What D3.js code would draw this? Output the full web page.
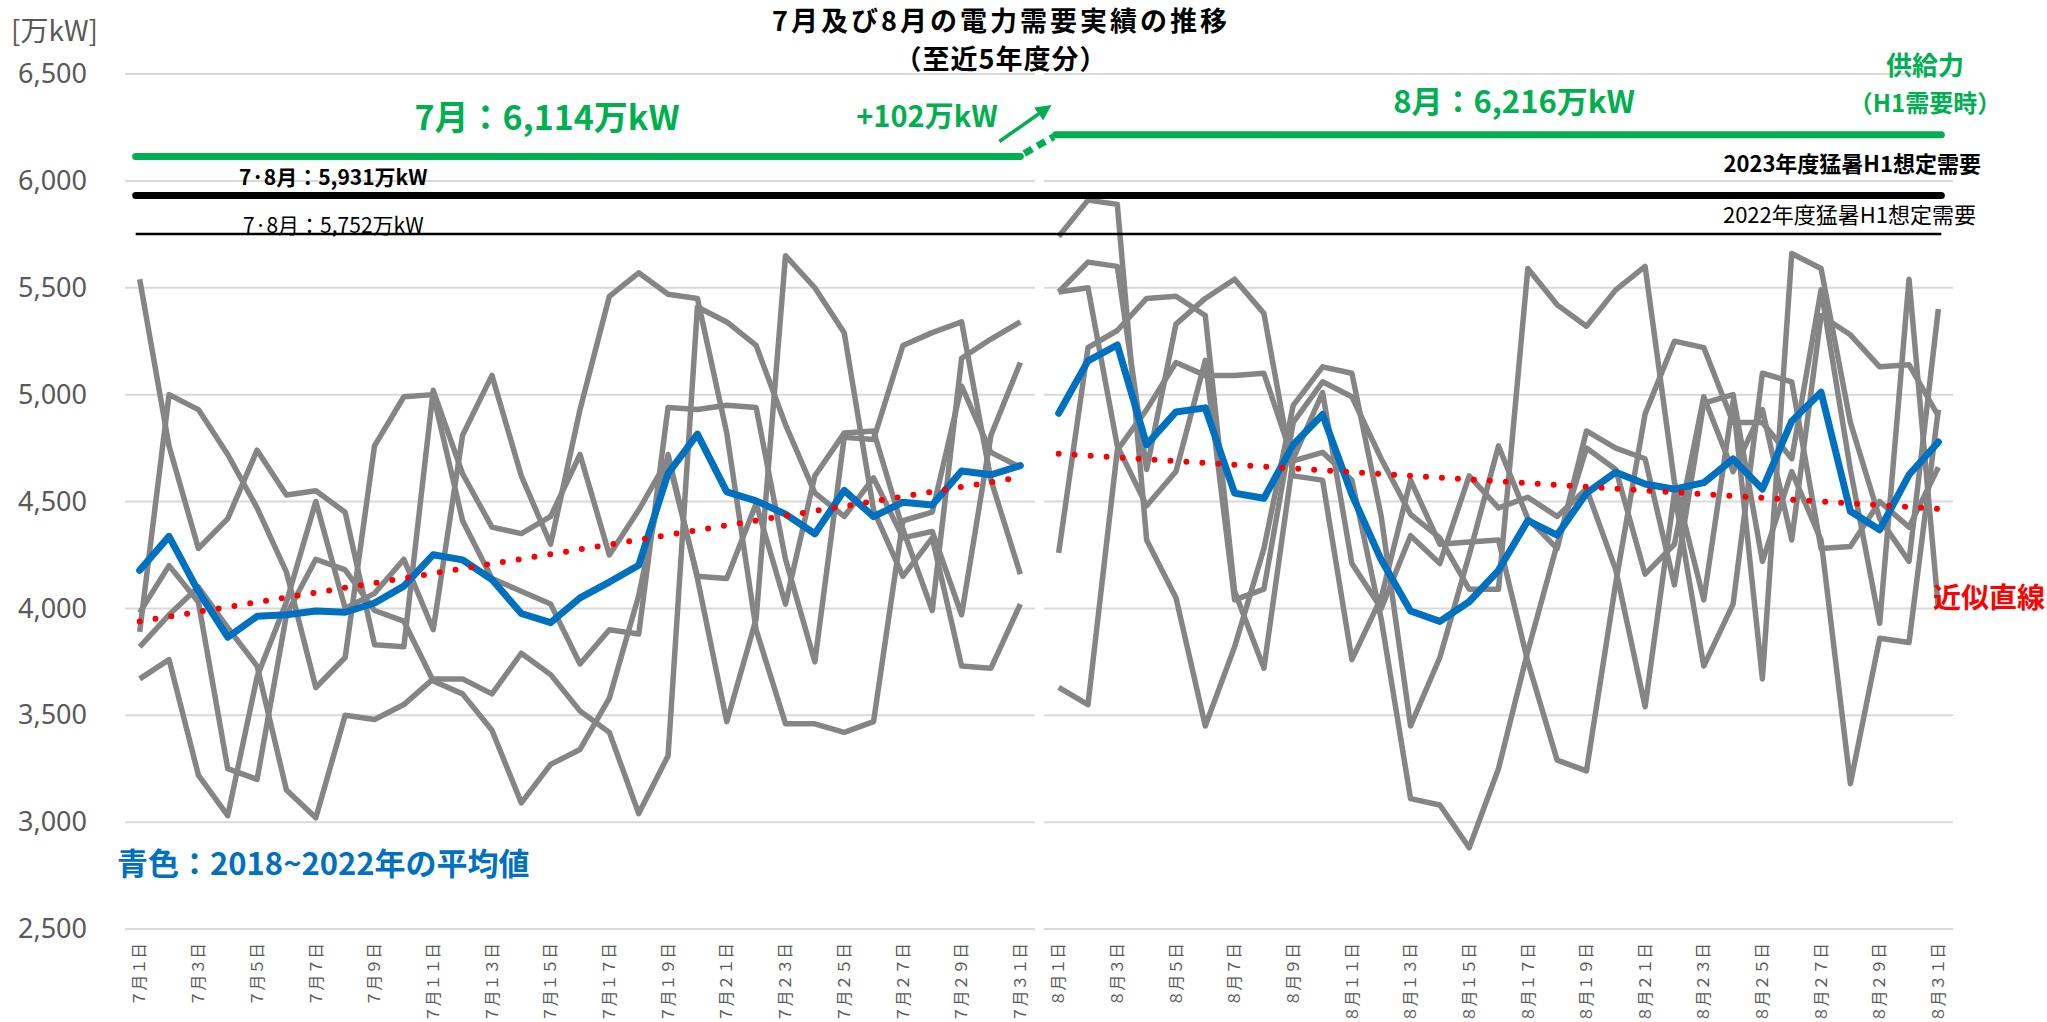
<!DOCTYPE html>
<html>
<head>
<meta charset="utf-8">
<script src="https://cdn.jsdelivr.net/npm/d3@7"></script>
<style>
  body { margin: 0; background: #fff; }
  svg text { font-family: "Noto Sans CJK JP", "Noto Sans", sans-serif; }
</style>
</head>
<body>
<svg id="chart" width="2047" height="1022"></svg>
<script>
// ---- data ----
var julDays = d3.range(1, 32).map(function(d){ return "7月" + d + "日"; });
var augDays = d3.range(1, 32).map(function(d){ return "8月" + d + "日"; });

// 2018-2022 daily peak demand (万kW), gray lines
var jul1 = [5540,4760,4280,4420,4740,4530,4550,4450,3830,3820,5020,4630,4380,4350,4430,4720,4250,4460,4700,4150,4140,4490,4020,4620,4820,4830,4370,3990,5170,5260,5340];
var jul2 = [3890,5000,4930,4720,4470,4170,3630,3770,4760,4990,5000,4410,4140,4080,4020,3740,3900,3880,4940,4930,4950,4940,4230,3750,4800,4790,5230,5290,5340,4600,4160];
var jul3 = [3980,4200,4030,3250,3200,3970,4230,4180,3990,3940,3660,3600,3430,3090,3270,3340,3580,4060,4720,4140,3470,3950,5650,5500,5290,4460,4150,4330,3730,3720,4020];
var jul4 = [3820,3970,4100,3910,3730,3150,3020,3500,3480,3550,3670,3670,3600,3790,3690,3520,3420,3040,3310,5410,5340,5230,4860,4540,4430,4610,4330,4360,3970,4810,5150];
var jul5 = [3670,3760,3220,3030,3680,4030,4500,4000,4070,4230,3900,4810,5090,4620,4300,4930,5460,5570,5470,5450,4820,3900,3460,3460,3420,3470,4410,4450,5040,4730,4660];

var aug1 = [5740,5910,5890,4320,4050,3450,3820,4280,4950,5130,5100,4430,3450,3770,4250,4760,4420,4280,4830,4750,4700,4110,4960,5000,4220,4640,4320,3180,3860,3840,4930];
var aug2 = [5480,5620,5600,4650,5330,5450,5540,5380,4620,4600,3760,4050,4600,4300,4310,4320,3750,3290,3240,4120,4910,5250,5220,4870,4870,4700,5490,4650,3930,5540,4000];
var aug3 = [5480,5500,4760,4480,4640,5160,4040,4090,4870,5060,4990,4700,4440,4330,4090,4090,5590,5420,5320,5490,5600,4590,4040,4970,3670,5660,5590,4870,4420,4220,5400];
var aug4 = [4260,5220,5300,5450,5460,5370,4080,3720,4700,5010,4210,4000,4340,4210,4620,4470,4520,4430,4560,4180,3540,4540,3730,4020,5100,5060,4280,4290,4500,4380,4660];
var aug5 = [3630,3550,4740,4930,5150,5090,5090,5100,4690,4730,4600,3950,3110,3080,2880,3250,3800,4300,4750,4650,4160,4300,4990,4640,4930,4320,5370,5280,5130,5140,4900];

// 5-year average (blue)
var julAvg = [4178,4337,4080,3865,3963,3970,3988,3982,4025,4104,4251,4227,4135,3976,3933,4049,4123,4202,4631,4815,4545,4503,4441,4349,4552,4429,4497,4484,4643,4625,4668];
var augAvg = [4913,5158,5232,4766,4919,4938,4539,4515,4766,4907,4533,4227,3988,3939,4031,4178,4411,4343,4539,4637,4582,4558,4588,4699,4558,4876,5011,4454,4368,4625,4778];

// trend line end values (first day, last day)
var julTrend = [3939, 4613];
var augTrend = [4723, 4466];

// supply and assumed demand levels
var supplyJul = 6114;
var supplyAug = 6216;
var demand2023 = 5931;
var demand2022 = 5752;

var yTicks = [2500,3000,3500,4000,4500,5000,5500,6000,6500];

// ---- setup ----
var svg = d3.select("#chart");
svg.append("rect").attr("width", 2047).attr("height", 1022).attr("fill", "#fff");

var y = d3.scaleLinear().domain([2500, 6500]).range([929, 74]);
var xJul = d3.scaleBand().domain(julDays).range([125, 1035]);
var xAug = d3.scaleBand().domain(augDays).range([1044, 1953]);

function cx(scale, label) { return scale(label) + scale.bandwidth() / 2; }

var panels = [
  {x: xJul, days: julDays, gray: [jul1, jul2, jul3, jul4, jul5], avg: julAvg, trend: julTrend},
  {x: xAug, days: augDays, gray: [aug1, aug2, aug3, aug4, aug5], avg: augAvg, trend: augTrend}
];

// gridlines
panels.forEach(function(p) {
  svg.append("g").selectAll("line")
    .data(yTicks)
    .enter().append("line")
    .attr("x1", p.x.range()[0])
    .attr("x2", p.x.range()[1])
    .attr("y1", function(d){ return y(d); })
    .attr("y2", function(d){ return y(d); })
    .attr("stroke", "#d9d9d9")
    .attr("stroke-width", 2);
});

// y axis
var yAxis = d3.axisLeft(y).tickValues(yTicks).tickFormat(d3.format(",")).tickSize(0).tickPadding(0);
var gy = svg.append("g").attr("transform", "translate(87,0)").call(yAxis);
gy.select(".domain").remove();
gy.selectAll("text")
  .attr("fill", "#595959")
  .style("font-family", "'Noto Sans', sans-serif")
  .style("font-size", "27px");

svg.append("text")
  .attr("x", 11).attr("y", 41)
  .attr("fill", "#595959")
  .style("font-size", "28px")
  .text("[万kW]");

// x axes (every other day labelled)
panels.forEach(function(p) {
  var xAxis = d3.axisBottom(p.x).tickSize(0)
    .tickFormat(function(d, i){ return i % 2 == 0 ? d : ""; });
  var gx = svg.append("g").attr("transform", "translate(0,929)").call(xAxis);
  gx.select(".domain").remove();
  gx.selectAll("text")
    .attr("transform", "rotate(-90)")
    .attr("x", -14)
    .attr("y", 0)
    .attr("dy", "0.36em")
    .style("text-anchor", "end")
    .style("font-family", "'Noto Sans CJK JP', sans-serif")
    .style("font-size", "15.8px")
    .style("font-feature-settings", "'fwid' 1")
    .attr("fill", "#595959");
});

// series lines
panels.forEach(function(p) {
  var line = d3.line()
    .x(function(d, i){ return cx(p.x, p.days[i]); })
    .y(function(d){ return y(d); });

  svg.append("g").selectAll("path")
    .data(p.gray)
    .enter().append("path")
    .attr("d", line)
    .attr("fill", "none")
    .attr("stroke", "#858585")
    .attr("stroke-width", 5.5)
    .attr("stroke-linejoin", "round");

  svg.append("path")
    .datum(p.avg)
    .attr("d", line)
    .attr("fill", "none")
    .attr("stroke", "#0070c0")
    .attr("stroke-width", 7)
    .attr("stroke-linejoin", "round")
    .attr("stroke-linecap", "round");

  // trend line (dotted)
  var ends = [p.days[0], p.days[p.days.length - 1]];
  svg.append("line")
    .attr("x1", cx(p.x, ends[0]))
    .attr("x2", cx(p.x, ends[1]))
    .attr("y1", y(p.trend[0]))
    .attr("y2", y(p.trend[1]))
    .attr("stroke", "#ff0000")
    .attr("stroke-width", 6)
    .attr("stroke-linecap", "round")
    .attr("stroke-dasharray", "0,16");
});

// reference levels
var julStart = cx(xJul, julDays[0]) - 4;
var julEnd = cx(xJul, julDays[30]);
var augStart = cx(xAug, augDays[0]) - 3;
var augEnd = cx(xAug, augDays[30]) + 3;

svg.append("line")
  .attr("x1", julStart).attr("x2", augEnd)
  .attr("y1", y(demand2022)).attr("y2", y(demand2022))
  .attr("stroke", "#000").attr("stroke-width", 2.5);

svg.append("line")
  .attr("x1", julStart).attr("x2", augEnd)
  .attr("y1", y(demand2023)).attr("y2", y(demand2023))
  .attr("stroke", "#000").attr("stroke-width", 7).attr("stroke-linecap", "round");

svg.append("line")
  .attr("x1", julStart).attr("x2", julEnd)
  .attr("y1", y(supplyJul)).attr("y2", y(supplyJul))
  .attr("stroke", "#00b050").attr("stroke-width", 7).attr("stroke-linecap", "round");

svg.append("line")
  .attr("x1", julEnd + 4).attr("x2", augStart - 2)
  .attr("y1", y(supplyJul) - 3).attr("y2", y(supplyAug) + 2)
  .attr("stroke", "#00b050").attr("stroke-width", 7).attr("stroke-dasharray", "9,6");

svg.append("line")
  .attr("x1", augStart).attr("x2", augEnd)
  .attr("y1", y(supplyAug)).attr("y2", y(supplyAug))
  .attr("stroke", "#00b050").attr("stroke-width", 7).attr("stroke-linecap", "round");

// arrow
svg.append("defs").append("marker")
  .attr("id", "arr")
  .attr("viewBox", "0 0 10 10")
  .attr("refX", 6).attr("refY", 5)
  .attr("markerWidth", 4.5).attr("markerHeight", 4.5)
  .attr("orient", "auto")
  .append("path")
  .attr("d", "M0,0 L10,5 L0,10 z")
  .attr("fill", "#00b050");

svg.append("line")
  .attr("x1", julEnd - 21).attr("y1", y(supplyJul) - 15)
  .attr("x2", julEnd + 26).attr("y2", y(supplyJul) - 48)
  .attr("stroke", "#00b050").attr("stroke-width", 3.5)
  .attr("marker-end", "url(#arr)");

// ---- text ----
function label(x, yy, txt, opts) {
  return svg.append("text")
    .attr("x", x).attr("y", yy)
    .attr("text-anchor", opts.anchor || "start")
    .attr("fill", opts.color || "#000")
    .style("font-size", opts.size + "px")
    .style("font-weight", opts.bold ? "bold" : "normal")
    .style("letter-spacing", (opts.ls || 0) + "px")
    .text(txt);
}

label(1001, 31, "7月及び8月の電力需要実績の推移", {anchor: "middle", size: 27, bold: true, ls: 3});
label(1001, 69, "（至近5年度分）", {anchor: "middle", size: 27, bold: true, ls: 1});

label(547, 130, "7月：6,114万kW", {anchor: "middle", size: 34, bold: true, color: "#00b050"});
label(1514, 113, "8月：6,216万kW", {anchor: "middle", size: 31, bold: true, color: "#00b050"});
label(927, 127, "+102万kW", {anchor: "middle", size: 29, bold: true, color: "#00b050"});
label(1925, 75, "供給力", {anchor: "middle", size: 26, bold: true, color: "#00b050"});
label(1925, 112, "（H1需要時）", {anchor: "middle", size: 24, bold: true, color: "#00b050"});

label(1981, 172, "2023年度猛暑H1想定需要", {anchor: "end", size: 22, bold: true});
label(1976, 223, "2022年度猛暑H1想定需要", {anchor: "end", size: 22});
label(239, 185, "7·8月：5,931万kW", {size: 21, bold: true});
label(243, 233, "7·8月：5,752万kW", {size: 21});

label(117, 875, "青色：2018~2022年の平均値", {size: 31, bold: true, color: "#0070c0"});
label(1933, 608, "近似直線", {size: 28, bold: true, color: "#ff0000"});
</script>
</body>
</html>
